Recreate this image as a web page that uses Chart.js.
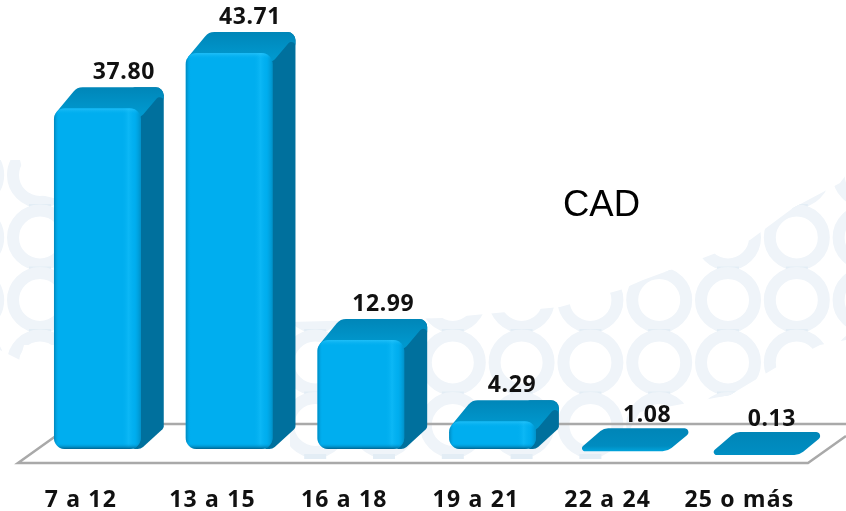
<!DOCTYPE html>
<html lang="es">
<head>
    <meta charset="UTF-8">
    <title>CAD</title>
    <script src="https://cdn.jsdelivr.net/npm/chart.js"></script>
    <style>
        html, body { margin: 0; padding: 0; background: #fff; }
        canvas { display: block; }
    </style>
</head>
<body>
    <canvas id="cadChart" width="846" height="511"></canvas>

    <script>
        const categories = ['7 a 12', '13 a 15', '16 a 18', '19 a 21', '22 a 24', '25 o más'];
        const cadValues = [37.80, 43.71, 12.99, 4.29, 1.08, 0.13];
        const valueLabels = ['37.80', '43.71', '12.99', '4.29', '1.08', '0.13'];
        const chartTitle = 'CAD';

        // el eje no empieza en 0: las barras chicas quedan como una placa sobre el piso
        const axisMin = 1.32;
        const axisMax = 48.86;
        const slabLimitY = 455;

        const depthX = 23;
        const depthY = 21;
        const labelFont = 'bold 23px "Noto Sans"';
        const labelNudge = [26.5, 21, 22.5, 19.5, 23, 16];

        // pts: [x, y, radio de la esquina]
        function roundPoly(ctx, pts) {
            const n = pts.length;
            ctx.beginPath();
            ctx.moveTo((pts[0][0] + pts[n - 1][0]) / 2, (pts[0][1] + pts[n - 1][1]) / 2);
            for (let i = 0; i < n; i++) {
                const next = pts[(i + 1) % n];
                ctx.arcTo(pts[i][0], pts[i][1], next[0], next[1], pts[i][2]);
            }
            ctx.closePath();
        }

        function traceOutline(ctx, pts) {
            pts.forEach((p, i) => i ? ctx.lineTo(p[0], p[1]) : ctx.moveTo(p[0], p[1]));
            ctx.closePath();
        }

        // fondo de anillos, solo decoracion
        const backgroundRings = {
            id: 'backgroundRings',
            beforeDraw(chart) {
                const ctx = chart.ctx;
                ctx.letterSpacing = '1.2px';
                ctx.save();
                ctx.fillStyle = '#fff';
                ctx.fillRect(0, 0, chart.width, chart.height);

                ctx.beginPath();
                traceOutline(ctx, [[0, 160], [20, 160], [28, 192], [62, 200], [62, 345], [24, 345], [20, 360], [0, 350]]);
                traceOutline(ctx, [[290, 322], [443, 318], [560, 307], [620, 290], [643, 280], [703, 258], [750, 240], [793, 208], [840, 183],
                    [846, 175], [846, 340], [820, 345], [775, 368], [730, 395], [640, 412], [610, 463], [290, 463]]);
                ctx.clip();

                ctx.strokeStyle = '#eff4f9';
                ctx.lineWidth = 12;
                for (let row = 0; row < 5; row++) {
                    const y = 175 + row * 62.5;
                    for (let col = -1; col < 13; col++) {
                        const x = 40 + col * 68.8;
                        ctx.beginPath();
                        ctx.arc(x, y, 27, 0, Math.PI * 2);
                        ctx.stroke();
                        ctx.fillStyle = '#e3edf5';
                        ctx.fillRect(x - 11, y + 29, 22, 5);
                    }
                }
                ctx.restore();
            }
        };

        // piso, caras lateral y superior de cada barra
        const bars3d = {
            id: 'bars3d',
            beforeDatasetsDraw(chart) {
                const ctx = chart.ctx;
                ctx.save();
                ctx.strokeStyle = '#a9a9a9';
                ctx.lineWidth = 2.5;
                ctx.beginPath();
                ctx.moveTo(60, 433);
                ctx.lineTo(18, 463);
                ctx.lineTo(808, 463);
                ctx.lineTo(846, 436);
                ctx.moveTo(60, 424);
                ctx.lineTo(846, 424);
                ctx.stroke();

                chart.getDatasetMeta(0).data.forEach((bar, i) => {
                    const x0 = bar.x - bar.width / 2;
                    const x1 = bar.x + bar.width / 2;
                    if (cadValues[i] < axisMin) {
                        const y = Math.min(bar.y, slabLimitY);
                        const slab = ctx.createLinearGradient(0, y - depthY, 0, y);
                        slab.addColorStop(0, '#0086b8');
                        slab.addColorStop(0.75, '#008cc0');
                        slab.addColorStop(1, i === 4 ? '#00a4dc' : '#0090c4');
                        ctx.fillStyle = slab;
                        roundPoly(ctx, [[x0 - 4, y, 3], [x1, y, 14], [x1 + depthX + 5, y - depthY - 2, 4], [x0 + depthX, y - depthY - 2, 12]]);
                        ctx.fill();
                        return;
                    }
                    // lado
                    ctx.fillStyle = '#00709d';
                    roundPoly(ctx, [[x1 - 8, bar.y - depthY, 2], [x1 + depthX, bar.y - depthY, 8],
                        [x1 + depthX, bar.base - depthY, 4], [x1, bar.base, 8], [x1 - 8, bar.base, 2]]);
                    ctx.fill();
                    // tapa
                    const top = ctx.createLinearGradient(0, bar.y - depthY, 0, bar.y + 4);
                    top.addColorStop(0, '#0086b8');
                    top.addColorStop(1, '#0098ce');
                    ctx.fillStyle = top;
                    roundPoly(ctx, [[x0 - 1, bar.y + 8, 3], [x0 + depthX, bar.y - depthY, 12],
                        [x1 + depthX, bar.y - depthY, 8], [x1 + depthX, bar.y - depthY + 3, 4], [x1, bar.y + 9, 8]]);
                    ctx.fill();
                });
                ctx.restore();
            },
            afterDatasetsDraw(chart) {
                const ctx = chart.ctx;
                ctx.save();
                chart.getDatasetMeta(0).data.forEach((bar, i) => {
                    const x0 = bar.x - bar.width / 2;
                    const h = bar.base - bar.y;
                    if (cadValues[i] >= axisMin) {
                        // brillo del frente
                        ctx.save();
                        ctx.beginPath();
                        ctx.roundRect(x0, bar.y, bar.width, h, 11);
                        ctx.clip();
                        const sheen = ctx.createLinearGradient(x0, 0, x0 + bar.width, 0);
                        sheen.addColorStop(0, 'rgba(0,105,150,.6)');
                        sheen.addColorStop(0.06, 'rgba(0,174,239,0)');
                        sheen.addColorStop(0.78, 'rgba(0,174,239,0)');
                        sheen.addColorStop(0.86, 'rgba(20,190,250,.6)');
                        sheen.addColorStop(0.93, 'rgba(0,174,239,.3)');
                        sheen.addColorStop(1, 'rgba(0,125,175,.6)');
                        ctx.fillStyle = sheen;
                        ctx.fillRect(x0, bar.y, bar.width, h);
                        const rim = ctx.createLinearGradient(0, bar.y, 0, bar.base);
                        const edge = Math.min(6 / h, 0.3);
                        rim.addColorStop(0, 'rgba(60,205,255,.55)');
                        rim.addColorStop(edge, 'rgba(0,174,239,0)');
                        rim.addColorStop(1 - edge, 'rgba(0,174,239,0)');
                        rim.addColorStop(1, 'rgba(0,90,130,.9)');
                        ctx.fillStyle = rim;
                        ctx.fillRect(x0, bar.y, bar.width, h);
                        ctx.restore();
                    }
                });

                ctx.letterSpacing = '0.6px';
                ctx.fillStyle = '#111';
                ctx.font = labelFont;
                ctx.textAlign = 'center';
                ctx.textBaseline = 'middle';
                chart.getDatasetMeta(0).data.forEach((bar, i) => {
                    const y = Math.min(bar.y, slabLimitY);
                    ctx.fillText(valueLabels[i], bar.x + labelNudge[i], y - 36);
                });

                ctx.letterSpacing = '0px';
                ctx.fillStyle = '#000';
                ctx.font = '36.5px "Liberation Sans"';
                ctx.textAlign = 'left';
                ctx.textBaseline = 'alphabetic';
                ctx.fillText(chartTitle, 563, 216);
                ctx.restore();
                ctx.letterSpacing = '1.2px';
            }
        };

        new Chart(document.getElementById('cadChart'), {
            type: 'bar',
            data: {
                labels: categories,
                datasets: [{
                    label: chartTitle,
                    data: cadValues,
                    base: axisMin,
                    backgroundColor: c => c.raw < axisMin ? 'rgba(0,0,0,0)' : '#00aeef',
                    borderRadius: 11,
                    borderSkipped: false,
                    categoryPercentage: 1,
                    barPercentage: 0.659
                }]
            },
            options: {
                responsive: false,
                animation: false,
                layout: { padding: { left: 31.5, right: 22.5, top: 5, bottom: 0 } },
                plugins: {
                    legend: { display: false },
                    title: { display: false },
                    tooltip: { enabled: false }
                },
                scales: {
                    y: { display: false, min: axisMin, max: axisMax },
                    x: {
                        afterFit: scale => { scale.height = 62; },
                        grid: { display: false, drawTicks: false },
                        border: { display: false },
                        ticks: {
                            color: '#111',
                            font: { family: '"Noto Sans"', size: 23, weight: 'bold' },
                            padding: 38,
                            labelOffset: -16.5,
                            autoSkip: false,
                            maxRotation: 0
                        }
                    }
                }
            },
            plugins: [backgroundRings, bars3d]
        });
    </script>
</body>
</html>
